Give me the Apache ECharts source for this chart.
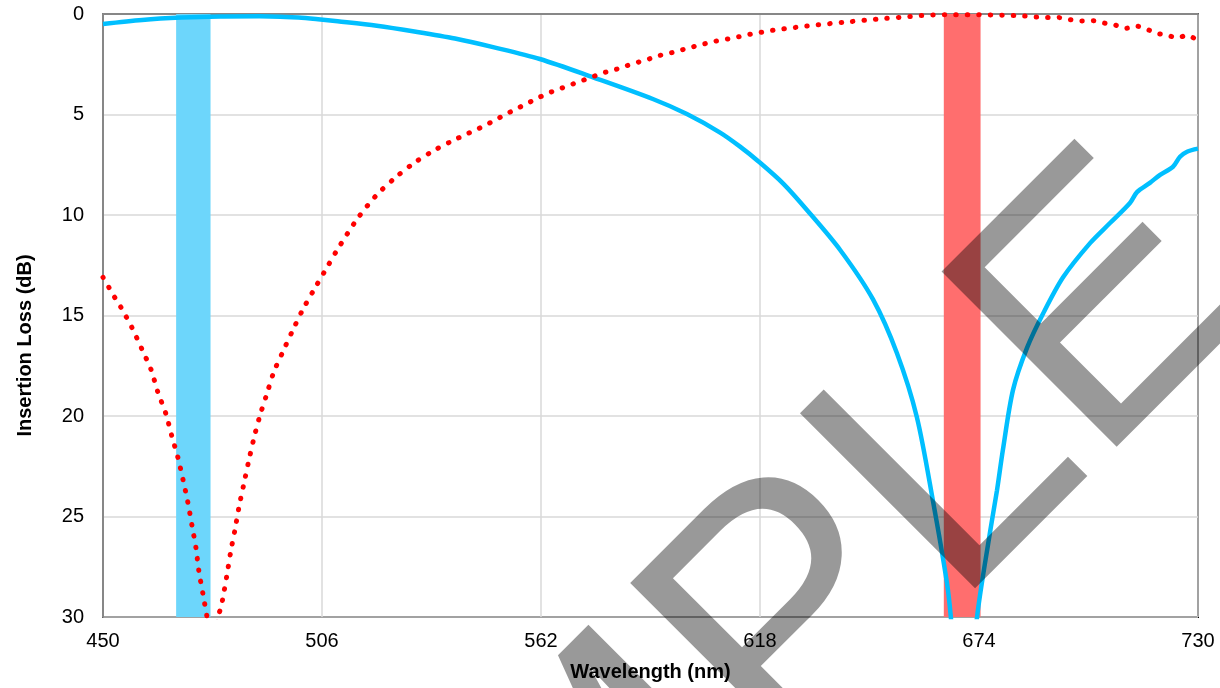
<!DOCTYPE html>
<html><head><meta charset="utf-8">
<script src="https://cdn.jsdelivr.net/npm/echarts@6/dist/echarts.min.js"></script>
<style>html,body{margin:0;padding:0;background:#fff}#c{width:1220px;height:688px}</style>
</head><body><div id="c"></div>
<script>
// ---- data ----
const xTicks = [450, 506, 562, 618, 674, 730];
const yTicks = [0, 5, 10, 15, 20, 25, 30];

const cyanWl = [450, 460, 470, 480, 490, 500, 505, 510, 520, 530, 540, 550, 561.7, 575.3, 590.6, 599.3, 607.8, 612.9, 617.7, 624, 630, 638.5, 646.9, 653, 658.1, 662.2, 665.8, 666.8, 668.5, 670, 671.8, 673.5, 676.8, 678.6, 680.1, 682.7, 686.3, 690.4, 695.5, 702.4, 707.5, 712.6, 714.4, 717.7, 720.3, 723.6, 725.4, 727.2, 730];
const cyanIL = [0.5, 0.3, 0.18, 0.12, 0.11, 0.18, 0.26, 0.36, 0.58, 0.88, 1.22, 1.66, 2.24, 3.15, 4.23, 4.98, 5.9, 6.6, 7.35, 8.45, 9.75, 11.74, 14.2, 16.87, 20.05, 24.2, 28.3, 30, 34, 38, 34, 30, 25.8, 23.7, 21.7, 18.7, 16.6, 14.9, 13.1, 11.4, 10.4, 9.4, 8.86, 8.4, 8.0, 7.6, 7.1, 6.85, 6.7];

const redWl = [450, 451.5, 453, 454.6, 457.4, 460, 462.3, 464, 466.1, 467.6, 469.2, 470.5, 471.7, 472.8, 473.8, 474.5, 475.6, 476.6, 478, 479.4, 480.2, 480.7, 481.7, 482.7, 483.8, 484.8, 486.1, 487.3, 488.6, 490.1, 491.9, 493.7, 496, 498.6, 501.1, 504, 507, 510, 515, 520, 525, 530, 535, 540, 543, 545.6, 548.4, 551, 553.6, 556.1, 558.7, 561.5, 564.6, 567.4, 570.2, 573, 575.8, 578.6, 581.4, 584, 587, 589.9, 592.4, 595.5, 598.3, 601.1, 603.9, 606.7, 609.8, 612.6, 615.4, 618.3, 621.3, 630, 640, 650, 656.3, 659.2, 662.2, 668, 674, 679.9, 685.5, 688.6, 691.4, 694.5, 697.3, 700.1, 703.1, 706, 708.8, 711.6, 714.1, 716.9, 719.5, 722.3, 724.6, 727.2, 730];
const redIL = [13.1, 13.6, 14.1, 14.6, 15.6, 16.7, 17.7, 18.8, 19.9, 21, 22.1, 23.2, 24.3, 25.5, 26.6, 27.7, 28.9, 30, 31.5, 30, 29.5, 29, 27.9, 26.7, 25.6, 24.5, 23.3, 22.2, 21.1, 20, 18.9, 17.8, 16.8, 15.7, 14.7, 13.7, 12.7, 11.7, 10.2, 9.0, 8.1, 7.35, 6.75, 6.25, 5.97, 5.74, 5.47, 5.2, 4.93, 4.68, 4.43, 4.15, 3.88, 3.68, 3.48, 3.28, 3.08, 2.89, 2.74, 2.57, 2.39, 2.22, 2.06, 1.92, 1.77, 1.62, 1.48, 1.35, 1.24, 1.13, 1.01, 0.91, 0.81, 0.6, 0.4, 0.22, 0.13, 0.08, 0.05, 0.04, 0.04, 0.06, 0.1, 0.15, 0.18, 0.18, 0.28, 0.35, 0.33, 0.45, 0.55, 0.71, 0.6, 0.76, 0.96, 1.06, 1.19, 1.06, 1.34];

const cyanBand = [468.7, 477.5];
const redBand = [665.0, 674.4];
const watermark = 'SAMPLE';
const xTitle = 'Wavelength (nm)';
const yTitle = 'Insertion Loss (dB)';

// ---- chart ----
const FONT = '"Liberation Sans", Arial, sans-serif';
const zip = (a, b) => a.map((v, i) => [v, b[i]]);
const chart = echarts.init(document.getElementById('c'), null, {renderer: 'canvas'});
chart.setOption({
  animation: false,
  backgroundColor: '#fff',
  grid: {left: 103, right: 22, top: 14, bottom: 71, show: true, borderColor: '#000', borderWidth: 2, containLabel: false},
  xAxis: {
    type: 'value', min: xTicks[0], max: xTicks[xTicks.length - 1], interval: xTicks[1] - xTicks[0],
    name: xTitle, nameLocation: 'middle', nameGap: 45,
    nameTextStyle: {fontFamily: FONT, fontSize: 20, fontWeight: 'bold', color: '#000'},
    axisLine: {show: true, lineStyle: {color: '#878787', width: 2}},
    axisTick: {show: false},
    axisLabel: {fontFamily: FONT, fontSize: 20, color: '#000', margin: 14},
    splitLine: {show: true, lineStyle: {color: '#d9d9d9', width: 1.5}}
  },
  yAxis: {
    type: 'value', inverse: true, min: yTicks[0], max: yTicks[yTicks.length - 1], interval: yTicks[1] - yTicks[0],
    name: yTitle, nameLocation: 'middle', nameGap: 68,
    nameTextStyle: {fontFamily: FONT, fontSize: 20, fontWeight: 'bold', color: '#000', padding: [0, 60, 0, 0]},
    axisLine: {show: true, onZero: false, lineStyle: {color: '#878787', width: 2}},
    axisTick: {show: false},
    axisLabel: {fontFamily: FONT, fontSize: 20, color: '#000', margin: 19},
    splitLine: {show: true, lineStyle: {color: '#d9d9d9', width: 1.5}}
  },
  series: [
    {
      type: 'line', data: [], z: 1, silent: true,
      markArea: {
        silent: true,
        data: [
          [{xAxis: cyanBand[0], itemStyle: {color: '#6dd6fb'}}, {xAxis: cyanBand[1]}],
          [{xAxis: redBand[0], itemStyle: {color: '#ff6e6e'}}, {xAxis: redBand[1]}]
        ]
      }
    },
    {
      type: 'line', data: zip(cyanWl, cyanIL), z: 3, showSymbol: false, clip: true,
      smooth: 0.3,
      lineStyle: {color: '#00bfff', width: 4.5}
    },
    {
      type: 'line', data: zip(redWl, redIL), z: 4, showSymbol: false, clip: true,
      smooth: 0.3,
      lineStyle: {color: '#ff0000', width: 5, type: [0.5, 11], cap: 'round'}
    }
  ],
  graphic: [{
    type: 'text', x: 679, y: 744, rotation: Math.PI / 4, z: 100, silent: true,
    style: {
      text: watermark, fontFamily: FONT, fontSize: 360, fill: 'rgba(0,0,0,0.4)',
      align: 'center', verticalAlign: 'middle', textAlign: 'center', textVerticalAlign: 'middle'
    }
  }]
});
</script></body></html>
